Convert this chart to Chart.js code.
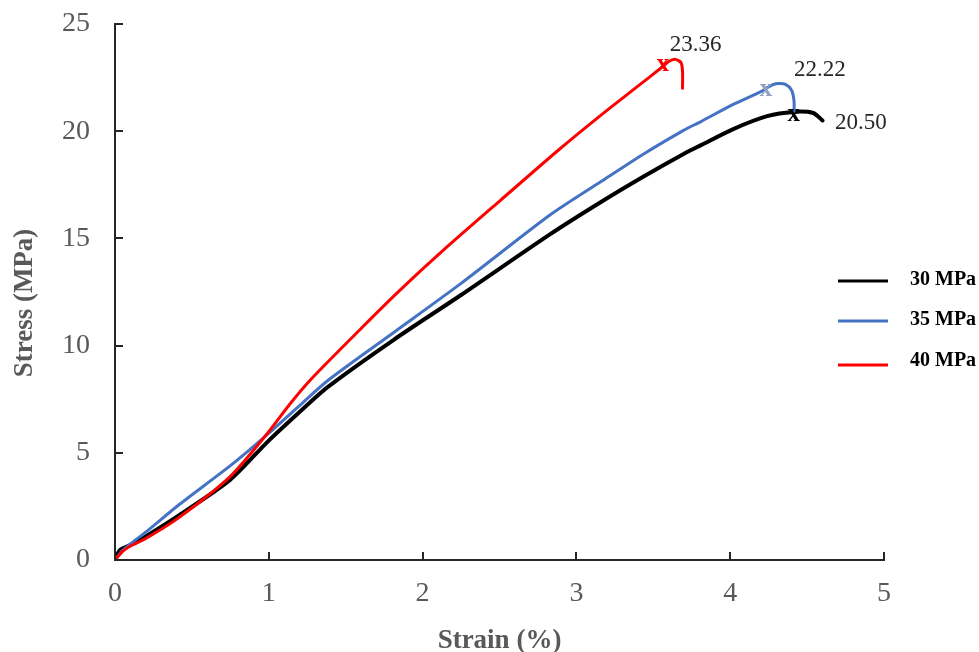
<!DOCTYPE html>
<html>
<head>
<meta charset="utf-8">
<script src="https://cdn.jsdelivr.net/npm/chart.js@4.4.1/dist/chart.umd.min.js"></script>
<style>
  html, body { margin: 0; padding: 0; background: #fff; }
  #wrap { width: 979px; height: 652px; }
</style>
</head>
<body>
<div id="wrap"><canvas id="chart"></canvas></div>
<script>
// values
const seriesNames = ["30 MPa", "35 MPa", "40 MPa"];

const strain30 = [0, 0.03, 0.1, 0.2, 0.42, 0.75, 0.99, 1.2, 1.38, 1.81, 2.25, 2.83, 3.16, 3.44, 3.7, 3.81, 4.02, 4.24, 4.41, 4.54, 4.6];
const stress30 = [0, 0.45, 0.7, 1.1, 2.1, 3.75, 5.5, 6.9, 8.05, 10.26, 12.36, 15.2, 16.7, 17.9, 18.95, 19.35, 20.1, 20.7, 20.9, 20.85, 20.5];

const strain35 = [0, 0.05, 0.1, 0.2, 0.42, 0.75, 0.99, 1.2, 1.38, 1.81, 2.25, 2.83, 3.16, 3.44, 3.7, 3.81, 4.02, 4.2, 4.27, 4.31, 4.36, 4.4, 4.415, 4.415];
const stress35 = [0, 0.45, 0.75, 1.3, 2.6, 4.4, 5.85, 7.2, 8.35, 10.6, 12.9, 16.1, 17.65, 18.95, 20.05, 20.45, 21.25, 21.85, 22.15, 22.22, 22.18, 21.9, 21.4, 20.9];

const strain40 = [0, 0.05, 0.1, 0.2, 0.42, 0.75, 0.99, 1.14, 1.27, 1.6, 1.855, 2.135, 2.51, 2.88, 3.16, 3.4, 3.55, 3.6, 3.64, 3.68, 3.69, 3.69];
const stress40 = [0, 0.4, 0.65, 1.0, 2.0, 3.9, 5.9, 7.3, 8.4, 10.8, 12.6, 14.45, 16.8, 19.1, 20.75, 22.1, 22.95, 23.25, 23.36, 23.2, 22.8, 22.0];

// failure marks ("x") and their strength labels
const failStrain = [4.414, 4.232, 3.561];
const failStress = [20.62, 21.78, 22.99];
const failLabels = ["20.50", "22.22", "23.36"];

const xTicks = [0, 1, 2, 3, 4, 5];
const yTicks = [0, 5, 10, 15, 20, 25];
const yTitle = "Stress (MPa)";

function toPoints(xs, ys) {
  return xs.map((x, i) => ({ x: x, y: ys[i] }));
}

const serif = "'Liberation Serif', 'Times New Roman', serif";
const axisColor = "#262626";
const tickColor = "#595959";

// inward tick marks, y title, failure marks, custom legend
const extrasPlugin = {
  id: "extras",
  afterDraw(chart) {
    const ctx = chart.ctx;
    const xs = chart.scales.x;
    const ys = chart.scales.y;
    const area = chart.chartArea;

    ctx.save();
    ctx.strokeStyle = axisColor;
    ctx.lineWidth = 2;
    xTicks.forEach((v) => {
      const px = Math.round(xs.getPixelForValue(v));
      ctx.beginPath();
      ctx.moveTo(px, area.bottom);
      ctx.lineTo(px, area.bottom - 8);
      ctx.stroke();
    });
    yTicks.forEach((v) => {
      const py = Math.round(ys.getPixelForValue(v));
      ctx.beginPath();
      ctx.moveTo(area.left, py);
      ctx.lineTo(area.left + 8, py);
      ctx.stroke();
    });

    // y axis title, a bit below the middle like the original
    ctx.save();
    ctx.translate(25, 303);
    ctx.rotate(-Math.PI / 2);
    ctx.textAlign = "center";
    ctx.textBaseline = "middle";
    ctx.fillStyle = tickColor;
    ctx.font = "bold 27px " + serif;
    ctx.fillText(yTitle, 0, 0);
    ctx.restore();

    // failure marks
    const markColors = ["#000000", "#8fa2c6", "#ff0000"];
    const labelOffsets = [[67, 5], [54, -23], [33, -22]];
    ctx.textAlign = "center";
    ctx.textBaseline = "middle";
    failStrain.forEach((s, i) => {
      const px = xs.getPixelForValue(s);
      const py = ys.getPixelForValue(failStress[i]);
      ctx.fillStyle = markColors[i];
      ctx.font = "bold 25px " + serif;
      ctx.fillText("x", px, py - 3);
      ctx.fillStyle = "#262626";
      ctx.font = "23px " + serif;
      ctx.fillText(failLabels[i], px + labelOffsets[i][0], py + labelOffsets[i][1]);
    });

    // legend
    const rows = [280, 320, 361];
    ctx.textAlign = "left";
    ctx.font = "bold 20px " + serif;
    chart.data.datasets.forEach((ds, i) => {
      const y = rows[i];
      ctx.strokeStyle = ds.borderColor;
      ctx.lineWidth = 3;
      ctx.beginPath();
      ctx.moveTo(838, y + (i === 2 ? 4 : 1));
      ctx.lineTo(888, y + (i === 2 ? 4 : 1));
      ctx.stroke();
      ctx.fillStyle = "#000";
      ctx.fillText(ds.label, 910, y);
    });
    ctx.restore();
  }
};

new Chart(document.getElementById("chart"), {
  type: "line",
  data: {
    datasets: [
      { label: seriesNames[0], data: toPoints(strain30, stress30), borderColor: "#000000", borderWidth: 4, order: 3 },
      { label: seriesNames[1], data: toPoints(strain35, stress35), borderColor: "#4472c4", borderWidth: 3, order: 2 },
      { label: seriesNames[2], data: toPoints(strain40, stress40), borderColor: "#ff0000", borderWidth: 3, order: 1 }
    ]
  },
  options: {
    responsive: true,
    maintainAspectRatio: false,
    animation: false,
    layout: { padding: { top: 24, right: 95, left: 0, bottom: 0 } },
    elements: {
      point: { radius: 0 },
      line: { tension: 0.25, fill: false, borderCapStyle: "round", borderJoinStyle: "round" }
    },
    plugins: {
      legend: { display: false },
      tooltip: { enabled: false }
    },
    scales: {
      x: {
        type: "linear",
        min: 0,
        max: 5,
        afterFit: (scale) => { scale.height = 92; scale.paddingLeft = 0; scale.paddingRight = 0; },
        afterBuildTicks: (scale) => { scale.ticks = xTicks.map((v) => ({ value: v })); },
        grid: { display: false, drawTicks: false },
        border: { display: true, color: axisColor, width: 2 },
        ticks: { padding: 17, color: tickColor, font: { family: serif, size: 28 } },
        title: {
          display: true,
          text: "Strain (%)",
          color: tickColor,
          font: { family: serif, size: 27, weight: "bold", lineHeight: 0.8 },
          padding: { top: 0, bottom: 0 }
        }
      },
      y: {
        type: "linear",
        min: 0,
        max: 25,
        afterFit: (scale) => { scale.width = 115; scale.paddingTop = 0; scale.paddingBottom = 0; },
        afterBuildTicks: (scale) => { scale.ticks = yTicks.map((v) => ({ value: v })); },
        grid: { display: false, drawTicks: false },
        border: { display: true, color: axisColor, width: 2 },
        ticks: { padding: 25, color: tickColor, font: { family: serif, size: 28 } },
        title: { display: false }
      }
    }
  },
  plugins: [extrasPlugin]
});
</script>
</body>
</html>
